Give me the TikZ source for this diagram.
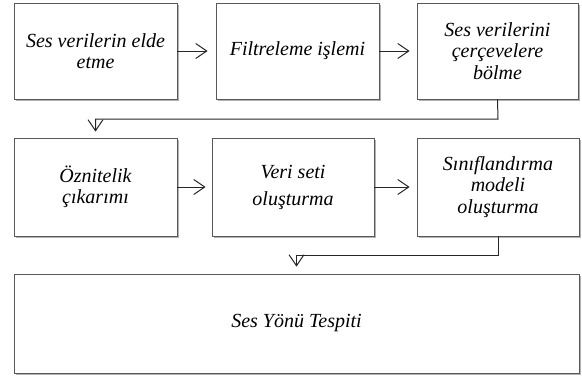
\documentclass[tikz,border=0pt]{standalone}
\usepackage{fontspec}
\setmainfont{Liberation Serif}
\usetikzlibrary{arrows.meta,shadows}
\begin{document}
\begin{tikzpicture}[x=1pt,y=1pt,
  box/.style={draw=gray!70!black, line width=0.8pt, fill=white, align=center,
    font=\itshape\fontsize{20}{21.5}\selectfont, inner sep=0pt,
    drop shadow={shadow xshift=1.8pt, shadow yshift=-1.8pt, fill=black, opacity=0.3}},
  arr/.style={draw=black!85, line width=1pt, -{Straight Barb[length=11pt,width=15pt,line width=1pt]}}]
\useasboundingbox (0,0) rectangle (582,-376);
\node[box, minimum width=163, minimum height=96] (b1) at (95.5,-51) {Ses verilerin elde\\etme};
\node[box, minimum width=163, minimum height=96] (b2) at (297.5,-51) {Filtreleme işlemi};
\node[box, minimum width=161, minimum height=96] (b3) at (497.5,-51) {Ses verilerini\\çerçevelere\\bölme};
\node[box, minimum width=163, minimum height=98] (b4) at (95.5,-187) {Öznitelik\\çıkarımı};
\node[box, minimum width=162, minimum height=98, font=\itshape\fontsize{20}{27}\selectfont] (b5) at (293,-187) {Veri seti\\oluşturma};
\node[box, minimum width=162, minimum height=98] (b6) at (498,-187) {Sınıflandırma\\modeli\\oluşturma};
\node[box, minimum width=565, minimum height=99] (b7) at (296.5,-323.5) {Ses Yönü Tespiti};
\coordinate (m1) at (498,-119);
\coordinate (m2) at (498,-255);
\draw[arr, shorten >=8pt] (b1) -- (b2);
\draw[arr, shorten >=7pt] (b2) -- (b3);
\draw[arr, shorten >=6pt] (b4) -- (b5);
\draw[arr, shorten >=7pt] (b5) -- (b6);
\draw[arr, shorten >=6pt] (b3.south) -- (m1) -| (b4.north);
\draw[arr, shorten >=7pt] (b6.south) -- (m2) -| (b7.north);
\end{tikzpicture}
\end{document}
